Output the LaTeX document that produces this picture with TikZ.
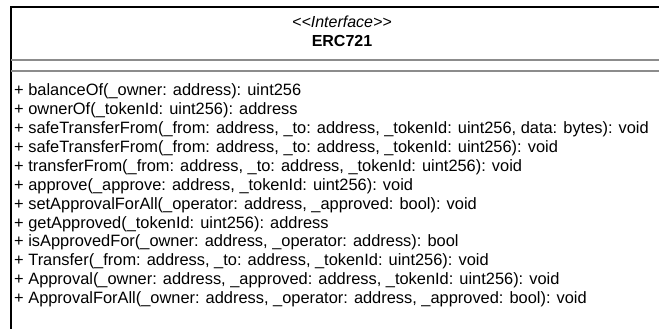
\documentclass[tikz,border=0pt]{standalone}
\usepackage{fontspec}
\setmainfont{Liberation Sans}
\begin{document}
\begin{tikzpicture}[x=1pt,y=-1pt,
    member/.style={anchor=base west,inner sep=0pt,font=\fontsize{16.4}{18}\selectfont},
    header/.style={anchor=base,inner sep=0pt,font=\fontsize{16}{18}\selectfont},
    divider/.style={black!45,line width=1.5pt}]
  \useasboundingbox (0,0) rectangle (659,329);
  % class box, cut off at the right and bottom
  \draw[line width=2pt] (11,329) -- (11,7) -- (659,7);
  \draw[divider] (11,60) -- (659,60);
  \draw[divider] (11,71) -- (659,71);
  \node[header,font=\fontsize{16}{18}\selectfont\itshape] (stereo) at (342,28) {<{}<Interface>{}>};
  \node[header,font=\fontsize{16}{18}\selectfont\bfseries] (cls) at (342,46.5) {ERC721};
  % operations
  \foreach \op [count=\i] in {
      {+ balanceOf(\_owner: address): uint256},
      {+ ownerOf(\_tokenId: uint256): address},
      {+ safeTransferFrom(\_from: address, \_to: address, \_tokenId: uint256, data: bytes): void},
      {+ safeTransferFrom(\_from: address, \_to: address, \_tokenId: uint256): void},
      {+ transferFrom(\_from: address, \_to: address, \_tokenId: uint256): void},
      {+ approve(\_approve: address, \_tokenId: uint256): void},
      {+ setApprovalForAll(\_operator: address, \_approved: bool): void},
      {+ getApproved(\_tokenId: uint256): address},
      {+ isApprovedFor(\_owner: address, \_operator: address): bool},
      {+ Transfer(\_from: address, \_to: address, \_tokenId: uint256): void},
      {+ Approval(\_owner: address, \_approved: address, \_tokenId: uint256): void},
      {+ ApprovalForAll(\_owner: address, \_operator: address, \_approved: bool): void}}
    \node[member] (op\i) at (14,{95.7+(\i-1)*18.9}) {\op};
\end{tikzpicture}
\end{document}
